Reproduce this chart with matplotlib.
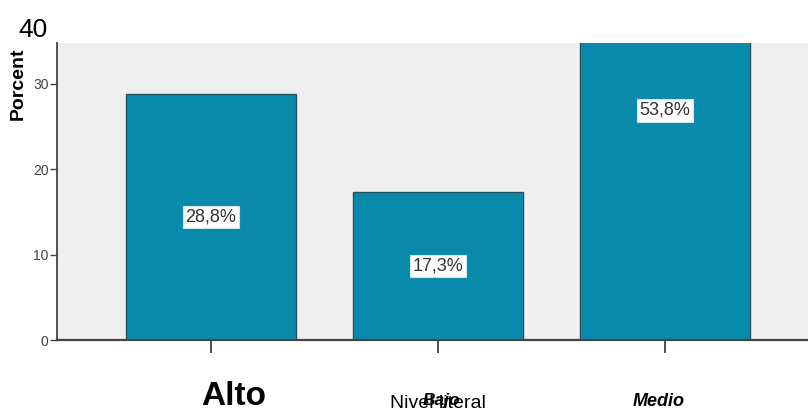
import matplotlib
matplotlib.use("Agg")
from matplotlib import pyplot as plt
import numpy as np

# data
categorias = ["Alto", "Bajo", "Medio"]
porcentajes = [28.8, 17.3, 53.8]
etiquetas = ["28,8%", "17,3%", "53,8%"]
yticks = [0, 10, 20, 30]

plt.rcParams['font.family'] = ['Liberation Sans', 'DejaVu Sans']

fig = plt.figure(figsize=(8.08, 4.12), dpi=100)
ax = fig.add_axes([57/808, 1-340/412, 1-57/808, (340-43)/412])
ax.set_facecolor('#efefef')

x = np.arange(len(categorias))
ax.bar(x, porcentajes, width=0.75, color='#0a8aab', edgecolor='#24535e', linewidth=1, zorder=2)

# labels in the middle of each bar
for xi, v, lab in zip(x, porcentajes, etiquetas):
    ax.text(xi, v/2, lab, ha='center', va='center', fontsize=13, color='#333333', zorder=3,
            bbox=dict(boxstyle='square,pad=0.15', fc='white', ec='#cfe3ea', lw=0.8))

ax.set_xlim(-0.678, 2.63)
ax.set_ylim(0, 34.8)

ax.set_yticks(yticks)
ax.set_yticklabels([str(t) for t in yticks], fontsize=10, color='#444444')
ax.tick_params(axis='y', length=5, width=1, color='#444444', pad=1)
ax.set_xticks(x)
ax.set_xticklabels([])
ax.tick_params(axis='x', length=9, width=1.2, color='#333333')

for s in ['top', 'right']:
    ax.spines[s].set_visible(False)
ax.spines['left'].set_color('#444444')
ax.spines['bottom'].set_color('#444444')
ax.spines['left'].set_linewidth(1.3)
ax.spines['bottom'].set_linewidth(1.6)

# stray texts around the axes
fig.text(33/808, 1-30/412, "40", ha='center', va='center', fontsize=19)
fig.text(18/808, 1-84/412, "Porcent", rotation=90, ha='center', va='center',
         fontsize=14, fontweight='bold')
fig.text(234/808, 1-405/412, categorias[0], ha='center', va='baseline',
         fontsize=24, fontweight='bold')
fig.text(438/808, 1-408/412, "Nivel literal", ha='center', va='baseline', fontsize=14)
fig.text(441/808, 1-405/412, categorias[1], ha='center', va='baseline',
         fontsize=12.5, fontweight='bold', style='italic')
fig.text(659/808, 1-406/412, categorias[2], ha='center', va='baseline',
         fontsize=13, fontweight='bold', style='italic')

fig.savefig("out.png", dpi=100)
